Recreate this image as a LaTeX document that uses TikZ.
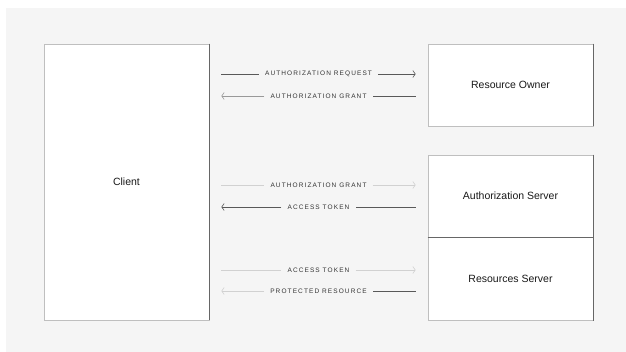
\documentclass[tikz,border=0pt]{standalone}
\usepackage{fontspec}
\setmainfont{Liberation Sans}
\newfontfamily\capsfont[LetterSpace=17]{Liberation Sans}
\usetikzlibrary{arrows.meta,positioning}

\begin{document}
\begin{tikzpicture}[x=1pt,y=-1pt,
  party/.style={draw=black!25, fill=white, line width=0.7pt, minimum width=165pt,
    inner sep=0pt, font=\fontsize{10.5}{12}\selectfont, text=black!90},
  msg/.style={font=\capsfont\fontsize{6.5}{7}\selectfont, text=black!80,
    inner xsep=6pt, inner ysep=1pt},
  dark/.style={draw=black!65, line width=0.6pt},
  mid/.style={draw=black!40, line width=0.6pt},
  pale/.style={draw=black!18, line width=0.6pt},
  rim/.style={draw=black!60, line width=0.7pt},
  tip/.style={-{Straight Barb[length=2.5pt,width=7pt]}}
]

% canvas
\useasboundingbox (0,0) rectangle (626,352);
\fill[black!4] (6,8) rectangle (626,352);

% parties
\node[party, minimum height=276pt] (client) at (126.5,182) {Client};
\node[party, minimum height=82pt] (owner) at (510.5,85) {Resource Owner};
\node[party, minimum height=82pt] (authsrv) at (510.5,196) {Authorization Server};
\node[party, minimum height=83pt, below=0pt of authsrv] (ressrv) {Resources Server};

% darker right edges and divider
\draw[rim] (client.north east) -- (client.south east);
\draw[rim] (owner.north east) -- (owner.south east);
\draw[rim] (authsrv.north east) -- (ressrv.south east);
\draw[rim] (authsrv.south west) -- (authsrv.south east);

% messages
\node[msg] (req) at (318.5,74) {AUTHORIZATION REQUEST};
\node[msg] (grant) at (318.5,96) {AUTHORIZATION GRANT};
\node[msg] (grant2) at (318.5,185) {AUTHORIZATION GRANT};
\node[msg] (token) at (318.5,207) {ACCESS TOKEN};
\node[msg] (token2) at (318.5,270) {ACCESS TOKEN};
\node[msg] (prot) at (318.5,291) {PROTECTED RESOURCE};

% client -> owner
\draw[dark, shorten <=12pt] (client.east |- req) -- (req.west);
\draw[dark, tip, shorten >=12pt] (req.east) -- (owner.west |- req);
\draw[dark, shorten <=12pt] (owner.west |- grant) -- (grant.east);
\draw[mid, tip, shorten >=12pt] (grant.west) -- (client.east |- grant);

% client -> authorization server
\draw[pale, shorten <=12pt] (client.east |- grant2) -- (grant2.west);
\draw[pale, tip, shorten >=12pt] (grant2.east) -- (authsrv.west |- grant2);
\draw[dark, shorten <=12pt] (authsrv.west |- token) -- (token.east);
\draw[dark, tip, shorten >=12pt] (token.west) -- (client.east |- token);

% client -> resources server
\draw[pale, shorten <=12pt] (client.east |- token2) -- (token2.west);
\draw[pale, tip, shorten >=12pt] (token2.east) -- (ressrv.west |- token2);
\draw[dark, shorten <=12pt] (ressrv.west |- prot) -- (prot.east);
\draw[pale, tip, shorten >=12pt] (prot.west) -- (client.east |- prot);

\end{tikzpicture}
\end{document}
